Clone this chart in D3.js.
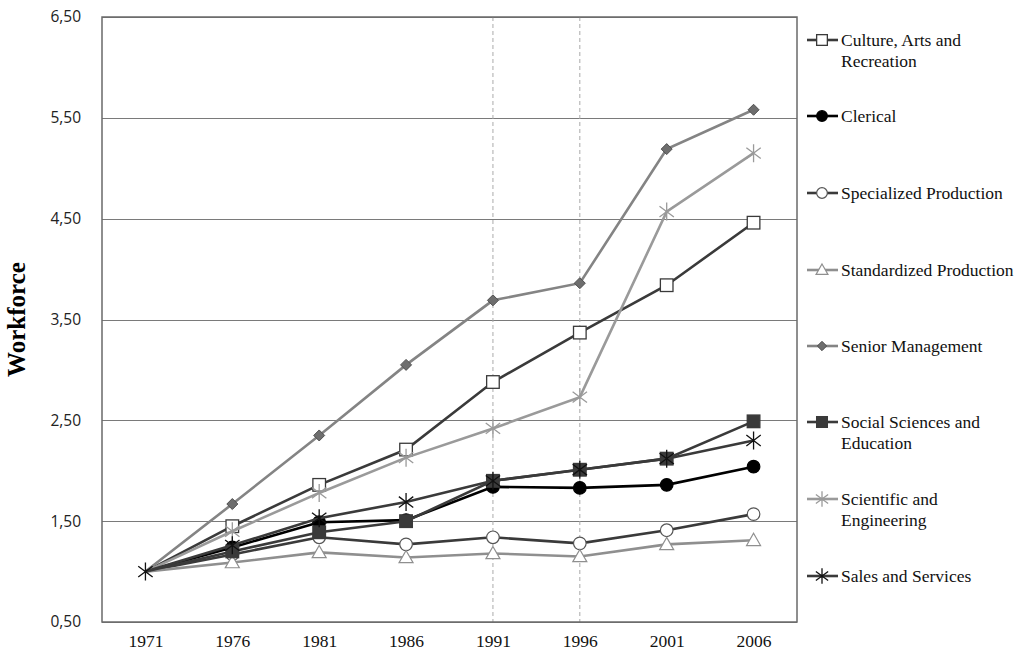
<!DOCTYPE html>
<html>
<head>
<meta charset="utf-8">
<script src="https://cdn.jsdelivr.net/npm/d3@7"></script>
<style>
  body { margin: 0; background: #fff; }
  .ytick { font-family: "Open Sans", "Liberation Sans", sans-serif; font-size: 15.5px; fill: #222; }
  .xtick, .legendText { font-family: "Liberation Serif", "Times New Roman", serif; font-size: 17.5px; fill: #111; }
</style>
</head>
<body>
<div id="chart"></div>
<script>
var years = ["1971", "1976", "1981", "1986", "1991", "1996", "2001", "2006"];
var yTicks = [0.5, 1.5, 2.5, 3.5, 4.5, 5.5, 6.5];
var markedYears = ["1991", "1996"];

var cultureArts = [1.00, 1.45, 1.86, 2.21, 2.88, 3.37, 3.84, 4.46];
var clerical = [1.00, 1.24, 1.49, 1.51, 1.84, 1.83, 1.86, 2.04];
var specializedProd = [1.00, 1.17, 1.34, 1.27, 1.34, 1.28, 1.41, 1.57];
var standardizedProd = [1.00, 1.09, 1.19, 1.14, 1.18, 1.15, 1.27, 1.31];
var seniorMgmt = [1.00, 1.67, 2.35, 3.05, 3.69, 3.86, 5.19, 5.58];
var socialSciences = [1.00, 1.20, 1.39, 1.50, 1.90, 2.01, 2.12, 2.49];
var scientificEng = [1.00, 1.40, 1.78, 2.13, 2.42, 2.73, 4.57, 5.15];
var salesServices = [1.00, 1.26, 1.53, 1.69, 1.90, 2.01, 2.12, 2.30];

var series = [
  {name: ["Culture, Arts and", "Recreation"], values: cultureArts, line: "#3a3a3a", shape: "square", fill: "#fff", stroke: "#3a3a3a"},
  {name: ["Clerical"], values: clerical, line: "#000", shape: "circle", fill: "#000", stroke: "#000"},
  {name: ["Specialized Production"], values: specializedProd, line: "#3a3a3a", shape: "circle", fill: "#fff", stroke: "#555"},
  {name: ["Standardized Production"], values: standardizedProd, line: "#8f8f8f", shape: "triangle", fill: "#fff", stroke: "#8f8f8f"},
  {name: ["Senior Management"], values: seniorMgmt, line: "#848484", shape: "diamond", fill: "#6e6e6e", stroke: "#505050"},
  {name: ["Social Sciences and", "Education"], values: socialSciences, line: "#3a3a3a", shape: "fsquare", fill: "#3a3a3a", stroke: "#3a3a3a"},
  {name: ["Scientific and", "Engineering"], values: scientificEng, line: "#9a9a9a", shape: "star", fill: "none", stroke: "#9a9a9a"},
  {name: ["Sales and Services"], values: salesServices, line: "#3a3a3a", shape: "star", fill: "none", stroke: "#111"}
];
var legendY = [40, 116, 193, 270, 346, 422, 499, 576];

var margin = {top: 17, right: 229, bottom: 38, left: 102},
    width = 1026 - margin.left - margin.right,
    height = 660 - margin.top - margin.bottom;

var svg = d3.select("#chart").append("svg")
  .attr("width", 1026)
  .attr("height", 660);

var g = svg.append("g")
  .attr("transform", "translate(" + margin.left + "," + margin.top + ")");

var x = d3.scalePoint().domain(years).range([0, width]).padding(0.5);
var y = d3.scaleLinear().domain([0.5, 6.5]).range([height, 0]);

// gridlines
g.selectAll(".grid")
  .data(yTicks)
  .enter().append("line")
  .attr("x1", 0).attr("x2", width)
  .attr("y1", function(d) { return Math.round(y(d)) + 0.5; })
  .attr("y2", function(d) { return Math.round(y(d)) + 0.5; })
  .attr("stroke", "#7a7a7a").attr("stroke-width", 1.2);

// dashed markers for 1991 and 1996
g.selectAll(".vmark")
  .data(markedYears)
  .enter().append("line")
  .attr("x1", function(d) { return x(d); }).attr("x2", function(d) { return x(d); })
  .attr("y1", 0).attr("y2", height)
  .attr("stroke", "#aaa").attr("stroke-width", 1).attr("stroke-dasharray", "4,3");

// plot frame
g.append("rect")
  .attr("x", 0).attr("y", 0).attr("width", width).attr("height", height)
  .attr("fill", "none").attr("stroke", "#6a6a6a").attr("stroke-width", 1.5);

// y axis labels
var yAxis = d3.axisLeft(y).tickValues(yTicks).tickSize(0).tickPadding(21)
  .tickFormat(function(d) { return d3.format(".2f")(d).replace(".", ","); });
g.append("g").call(yAxis)
  .call(function(s) { s.select(".domain").remove(); })
  .selectAll("text").attr("class", "ytick");

// x axis labels
var xAxis = d3.axisBottom(x).tickSize(0).tickPadding(13);
g.append("g").attr("transform", "translate(0," + height + ")").call(xAxis)
  .call(function(s) { s.select(".domain").remove(); })
  .selectAll("text").attr("class", "xtick");

// axis title
svg.append("text")
  .attr("transform", "translate(25," + (margin.top + height / 2) + ") rotate(-90)")
  .attr("text-anchor", "middle")
  .style("font-family", "'Liberation Serif', 'Times New Roman', serif")
  .style("font-weight", "bold").style("font-size", "25px")
  .text("Workforce");

function drawMarker(sel, s, cx, cy, scale) {
  scale = scale || 1;
  if (s.shape === "square" || s.shape === "fsquare") {
    var h = 6.3 * scale;
    sel.append("rect").attr("x", cx - h).attr("y", cy - h).attr("width", 2 * h).attr("height", 2 * h)
      .attr("fill", s.fill).attr("stroke", s.stroke).attr("stroke-width", 1.3);
  } else if (s.shape === "circle") {
    sel.append("circle").attr("cx", cx).attr("cy", cy).attr("r", 6.3 * scale)
      .attr("fill", s.fill).attr("stroke", s.stroke).attr("stroke-width", 1.2);
  } else if (s.shape === "triangle") {
    var t = 7 * scale;
    sel.append("path")
      .attr("d", "M" + cx + "," + (cy - t) + "L" + (cx + t) + "," + (cy + t * 0.75) + "L" + (cx - t) + "," + (cy + t * 0.75) + "Z")
      .attr("fill", s.fill).attr("stroke", s.stroke).attr("stroke-width", 1.2);
  } else if (s.shape === "diamond") {
    var dd = 5.5 * scale;
    sel.append("path")
      .attr("d", "M" + cx + "," + (cy - dd) + "L" + (cx + dd) + "," + cy + "L" + cx + "," + (cy + dd) + "L" + (cx - dd) + "," + cy + "Z")
      .attr("fill", s.fill).attr("stroke", s.stroke).attr("stroke-width", 1);
  } else if (s.shape === "star") {
    var r = 9 * scale, a = r * 0.8, b = r * 0.6;
    sel.append("path")
      .attr("d", "M" + (cx - a) + "," + (cy - b) + "L" + (cx + a) + "," + (cy + b) +
                 "M" + (cx - a) + "," + (cy + b) + "L" + (cx + a) + "," + (cy - b) +
                 "M" + cx + "," + (cy - r) + "L" + cx + "," + (cy + r))
      .attr("fill", "none").attr("stroke", s.stroke).attr("stroke-width", 1.3);
  }
}

var line = d3.line()
  .x(function(d, i) { return x(years[i]); })
  .y(function(d) { return y(d); });

// lines and markers (at 1971 only the last series' marker shows, as in the source)
series.forEach(function(s, si) {
  var sg = g.append("g");
  sg.append("path")
    .datum(s.values)
    .attr("d", line)
    .attr("fill", "none")
    .attr("stroke", s.line)
    .attr("stroke-width", 2.6);
  s.values.forEach(function(v, i) {
    if (i === 0 && si !== series.length - 1) return;
    drawMarker(sg, s, x(years[i]), y(v));
  });
});

// legend
var legend = svg.append("g");
series.forEach(function(s, i) {
  var ly = legendY[i];
  var lg = legend.append("g");
  lg.append("line").attr("x1", 807).attr("x2", 838).attr("y1", ly).attr("y2", ly)
    .attr("stroke", s.line).attr("stroke-width", 2.6);
  drawMarker(lg, s, 822, ly, 0.85);
  var txt = lg.append("text").attr("class", "legendText").attr("x", 841).attr("y", ly + 6);
  s.name.forEach(function(n, k) {
    txt.append("tspan").attr("x", 841).attr("dy", k === 0 ? 0 : 21).text(n);
  });
});
</script>
</body>
</html>
